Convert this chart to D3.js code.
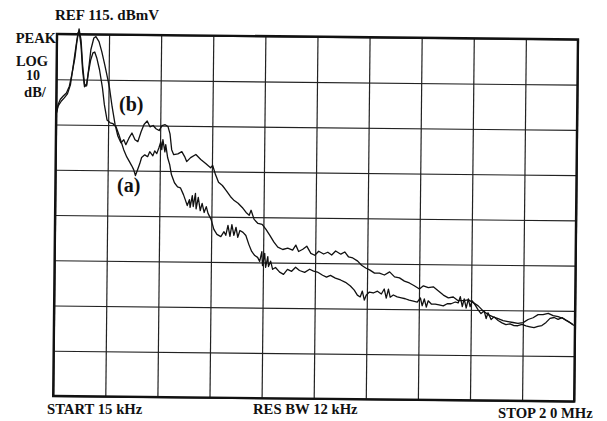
<!DOCTYPE html>
<html>
<head>
<meta charset="utf-8">
<script src="https://cdn.jsdelivr.net/npm/d3@7"></script>
<style>
  body { margin: 0; background: #fff; }
  text { font-family: "Liberation Serif", "Times New Roman", serif; font-weight: bold; fill: #111; }
</style>
</head>
<body>
<div id="chart"></div>
<script>
// Trace (a): frequency (MHz) and level (dBmV)
const freqA = [0.015,0.09,0.21,0.32,0.44,0.55,0.63,0.74,0.82,0.86,
  0.94,1.01,1.09,1.17,1.24,1.32,1.40,1.47,1.55,1.66,
  1.78,1.86,1.97,2.09,2.20,2.32,2.43,2.51,2.62,2.74,
  2.85,2.93,3.01,3.08,3.16,3.24,3.31,3.43,3.54,3.62,
  3.74,3.81,3.89,3.97,4.04,4.08,4.12,4.20,4.23,4.31,
  4.39,4.46,4.58,4.70,4.81,4.93,5.00,5.08,5.16,5.19,
  5.27,5.31,5.39,5.42,5.50,5.58,5.65,5.73,5.81,5.88,
  6.00,6.11,6.23,6.38,6.50,6.57,6.65,6.73,6.80,6.88,
  6.96,7.03,7.11,7.23,7.34,7.46,7.57,7.69,7.80,7.88,
  7.96,7.99,8.07,8.11,8.19,8.22,8.30,8.38,8.49,8.65,
  8.80,8.95,9.11,9.26,9.41,9.61,9.80,9.95,10.10,10.30,
  10.45,10.60,10.79,10.99,11.18,11.37,11.52,11.64,11.75,11.83,
  11.91,11.98,12.10,12.25,12.41,12.56,12.67,12.75,12.83,12.90,
  13.02,13.17,13.33,13.48,13.63,13.79,13.94,14.06,14.13,14.21,
  14.29,14.36,14.48,14.63,14.78,14.94,15.09,15.24,15.40,15.51,
  15.59,15.67,15.74,15.82,15.90,15.97,16.05,16.16,16.28,16.39,
  16.51,16.59,16.66,16.78,16.89,17.05,17.20,17.35,17.51,17.66,
  17.81,17.97,18.12,18.27,18.43,18.58,18.73,18.89,19.04,19.20,
  19.35,19.50,19.66,19.81,19.96];
const levelA = [97.3,99.1,100.2,100.9,101.8,103.8,107.1,112.0,115.3,115.7,
  112.6,107.1,103.4,103.8,106.7,109.4,110.9,111.1,109.8,107.2,
  103.2,99.5,96.1,95.5,95.3,94.6,92.9,91.5,89.6,88.0,
  86.9,86.1,85.2,83.9,85.2,86.5,87.9,88.5,88.1,89.2,
  88.3,89.4,88.8,90.1,91.4,89.7,91.9,89.2,90.8,87.9,
  86.4,84.2,82.4,81.5,81.3,79.8,78.7,77.4,78.7,77.0,
  79.6,77.2,80.1,76.7,79.2,76.3,77.9,75.9,77.2,75.7,
  74.4,72.2,71.1,70.6,71.7,70.9,73.1,70.7,73.3,70.9,
  72.7,70.5,72.0,71.6,70.9,68.9,67.4,66.5,66.1,65.2,
  67.4,64.3,67.0,63.9,66.3,64.1,65.3,63.5,63.9,62.9,
  62.4,63.5,63.1,64.0,63.3,62.9,63.6,63.2,63.0,62.3,
  61.9,62.3,61.7,61.3,60.8,60.0,59.1,58.0,57.6,58.9,
  56.9,58.0,58.7,58.5,58.9,58.3,59.4,57.4,59.4,57.6,
  58.1,57.7,57.5,57.3,57.0,56.8,56.6,57.5,55.8,57.3,
  55.5,56.9,56.2,56.2,56.0,55.8,56.3,56.3,56.7,56.5,
  57.9,55.7,57.4,55.4,57.4,55.7,57.0,56.1,55.0,54.2,
  54.8,53.1,54.4,52.9,53.5,52.7,52.2,51.8,52.0,51.6,
  51.6,51.9,51.6,51.4,51.2,51.5,51.7,52.4,53.3,53.5,
  53.1,53.5,52.9,52.4,51.8];

// Trace (b): frequency (MHz) and level (dBmV)
const freqB = [0.015,0.09,0.17,0.28,0.40,0.51,0.59,0.71,0.78,0.86,
  0.94,1.01,1.09,1.17,1.24,1.32,1.43,1.51,1.63,1.74,
  1.86,1.97,2.05,2.16,2.28,2.39,2.51,2.62,2.70,2.82,
  2.93,3.05,3.16,3.28,3.39,3.51,3.62,3.74,3.85,3.97,
  4.08,4.20,4.31,4.39,4.46,4.54,4.70,4.85,4.96,5.04,
  5.19,5.39,5.58,5.77,5.96,6.04,6.15,6.27,6.42,6.57,
  6.73,6.88,7.03,7.19,7.34,7.46,7.53,7.65,7.80,7.96,
  8.11,8.26,8.42,8.57,8.76,8.95,9.14,9.26,9.37,9.53,
  9.68,9.84,9.99,10.14,10.33,10.49,10.64,10.79,10.99,11.14,
  11.29,11.45,11.64,11.79,11.95,12.10,12.29,12.48,12.67,12.87,
  13.06,13.25,13.44,13.63,13.82,14.02,14.17,14.36,14.55,14.75,
  14.94,15.13,15.32,15.51,15.70,15.90,16.09,16.28,16.47,16.66,
  16.86,17.05,17.24,17.43,17.62,17.81,18.01,18.20,18.39,18.58,
  18.77,18.97,19.16,19.35,19.54,19.73,19.92];
const levelB = [97.3,99.5,100.6,101.3,102.0,103.5,105.8,109.7,113.3,116.2,
  113.7,108.2,104.0,103.6,107.1,111.6,114.2,114.5,113.4,111.2,
  108.3,105.4,103.2,99.0,95.1,92.6,91.1,91.8,90.7,92.2,
  93.3,91.8,91.4,93.6,95.2,96.0,94.7,95.0,94.3,93.9,
  95.0,95.2,94.8,93.2,89.7,88.6,88.8,89.3,88.2,87.1,
  88.0,88.7,87.6,86.7,85.8,86.3,84.3,82.6,81.9,80.8,
  79.5,78.6,78.0,77.1,76.0,75.4,76.5,74.5,73.6,73.4,
  72.3,71.0,69.5,68.4,67.9,68.2,67.8,68.9,67.5,68.0,
  68.7,67.1,66.7,67.6,67.0,67.4,66.8,67.7,67.0,67.5,
  66.4,66.2,65.5,64.6,64.0,63.6,62.9,62.9,62.5,63.2,
  62.1,61.9,61.2,60.8,60.2,59.5,60.2,59.8,60.0,59.1,
  58.2,57.6,57.8,57.0,57.0,57.2,56.6,55.9,54.8,54.0,
  53.5,53.1,52.7,52.5,52.3,52.1,52.3,53.0,53.4,54.1,
  54.1,54.4,53.9,53.7,53.3,52.7,52.0];

// Graticule: 10 divisions across, 10 dB per division down from REF 115 dBmV
const freqGrid = [0.015, 2.0135, 4.012, 6.0105, 8.009, 10.0075, 12.006, 14.0045, 16.003, 18.0015, 20];
const levelGrid = [35, 45, 55, 65, 75, 85, 95, 105, 115];

// Instrument annotations
const leftLabels = ["PEAK", "LOG", "10", "dB/"];
const refLabel = "REF 115. dBmV";
const bottomLabels = ["START 15 kHz", "RES BW 12 kHz", "STOP 2 0 MHz"];

const W = 607, H = 421;
const margin = { top: 34, left: 57 };
const width = 521, height = 362;

const svg = d3.select("#chart").append("svg")
  .attr("width", W).attr("height", H)
  .style("display", "block");

svg.append("rect").attr("width", W).attr("height", H).attr("fill", "#fff");

const x = d3.scaleLinear().domain([0.015, 20]).range([0, width]);
const y = d3.scaleLinear().domain([35, 115]).range([height, 0]);

// the scanned plot is turned a little clockwise
const g = svg.append("g")
  .attr("transform", `translate(${margin.left},${margin.top}) rotate(0.6)`);

// vertical grid lines
g.append("g")
  .attr("transform", `translate(0,${height})`)
  .call(d3.axisBottom(x).tickValues(freqGrid).tickSize(height).tickFormat(""))
  .call(a => a.select(".domain").remove())
  .call(a => a.selectAll(".tick line")
    .attr("y2", -height).attr("stroke", "#222").attr("stroke-width", 1.2));

// horizontal grid lines
g.append("g")
  .call(d3.axisLeft(y).tickValues(levelGrid).tickSize(-width).tickFormat(""))
  .call(a => a.select(".domain").remove())
  .call(a => a.selectAll(".tick line").attr("stroke", "#222").attr("stroke-width", 1.2));

// outer frame
g.append("rect")
  .attr("width", width).attr("height", height)
  .attr("fill", "none").attr("stroke", "#111").attr("stroke-width", 2.4);

const line = d3.line()
  .x(d => x(d[0]))
  .y(d => y(d[1]));

const traces = [d3.zip(freqA, levelA), d3.zip(freqB, levelB)];
g.selectAll(".trace")
  .data(traces)
  .enter()
  .append("path")
  .attr("class", "trace")
  .attr("d", line)
  .attr("fill", "none")
  .attr("stroke", "#111")
  .attr("stroke-width", 1.3)
  .attr("stroke-linejoin", "round");

/* Text */
svg.append("text")
  .attr("x", 55).attr("y", 20)
  .attr("font-size", "15px")
  .text(refLabel);

const leftPos = [
  { x: 56, y: 43, anchor: "end", size: 14.5 },
  { x: 32, y: 66, anchor: "middle", size: 14.5 },
  { x: 33, y: 80, anchor: "middle", size: 14 },
  { x: 35, y: 97, anchor: "middle", size: 14.5 }
];
svg.selectAll(".leftLabel")
  .data(leftLabels)
  .enter()
  .append("text")
  .attr("class", "leftLabel")
  .attr("x", (d, i) => leftPos[i].x)
  .attr("y", (d, i) => leftPos[i].y)
  .attr("text-anchor", (d, i) => leftPos[i].anchor)
  .attr("font-size", (d, i) => leftPos[i].size + "px")
  .text(d => d);

const bottomPos = [[47, 414], [253, 414], [498, 418]];
svg.selectAll(".bottomLabel")
  .data(bottomLabels)
  .enter()
  .append("text")
  .attr("class", "bottomLabel")
  .attr("x", (d, i) => bottomPos[i][0])
  .attr("y", (d, i) => bottomPos[i][1])
  .attr("font-size", "14.7px")
  .text(d => d);

// trace labels
svg.append("text")
  .attr("x", 119).attr("y", 111)
  .attr("font-size", "20px")
  .text("(b)");
svg.append("text")
  .attr("x", 117).attr("y", 192)
  .attr("font-size", "20px")
  .text("(a)");
</script>
</body>
</html>
